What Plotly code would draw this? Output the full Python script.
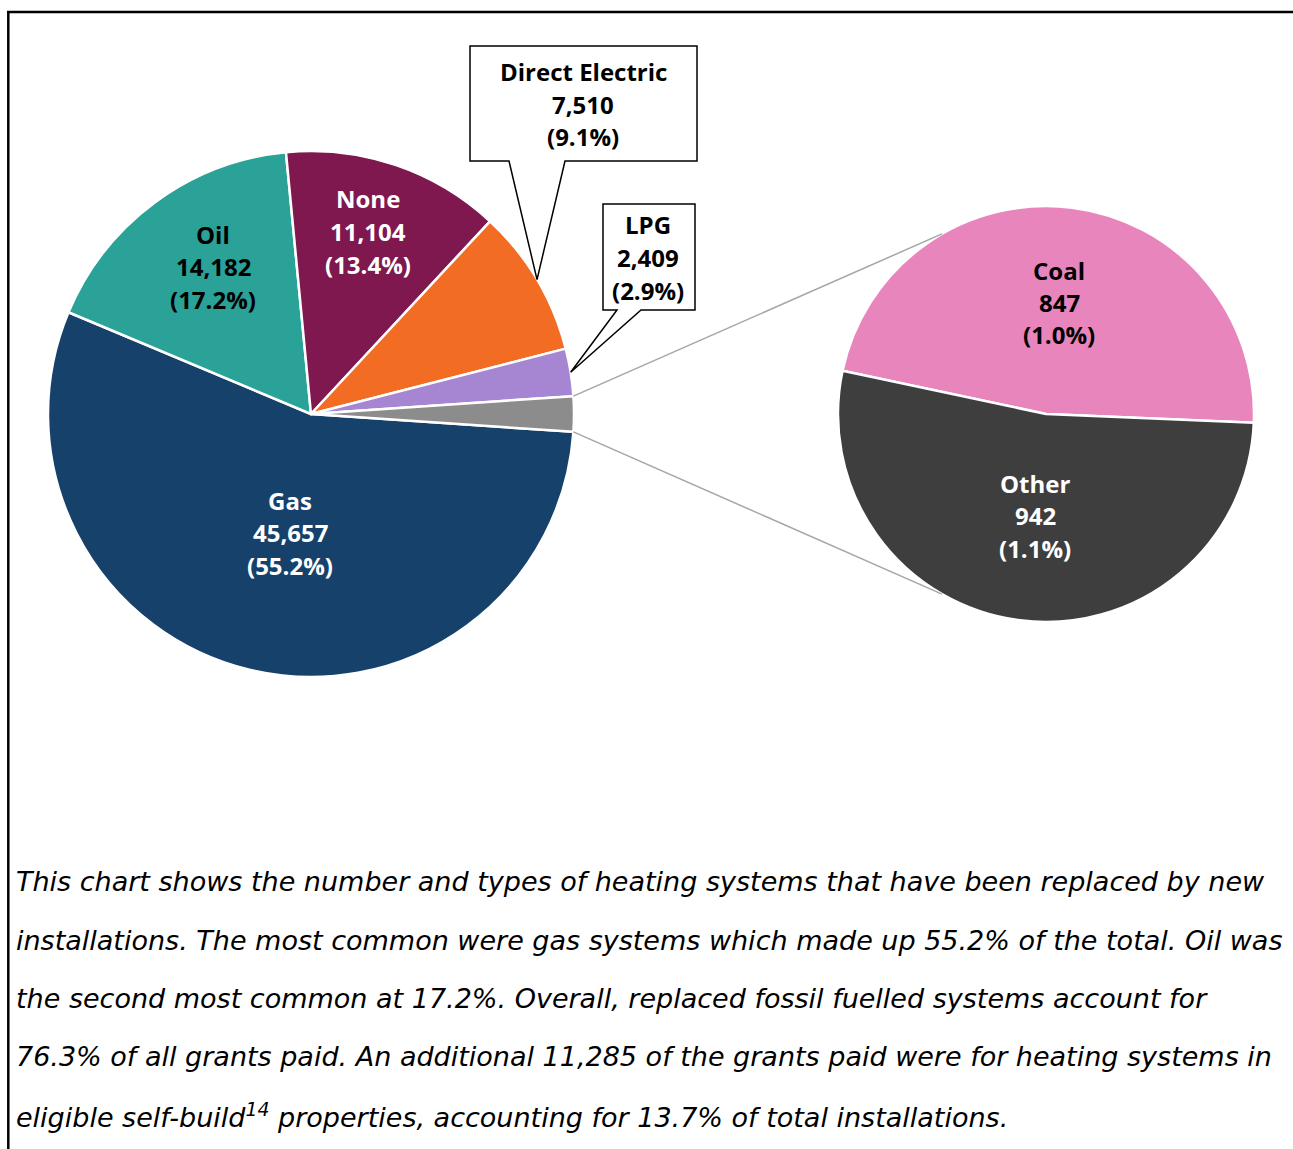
import math
import plotly.graph_objects as go

# ---------------- data ----------------
main_labels = ["Gas", "Oil", "None", "Direct Electric", "LPG"]
main_values = [45657, 14182, 11104, 7510, 2409]
sub_labels = ["Coal", "Other"]
sub_values = [847, 942]

caption_lines = [
    "This chart shows the number and types of heating systems that have been replaced by new",
    "installations. The most common were gas systems which made up 55.2% of the total. Oil was",
    "the second most common at 17.2%. Overall, replaced fossil fuelled systems account for",
    "76.3% of all grants paid. An additional 11,285 of the grants paid were for heating systems in",
    "eligible self-build<sup>14</sup> properties, accounting for 13.7% of total installations.",
]

# ---------------- styles / layout ----------------
W, H = 1293, 1149
main_colors = ["#15416B", "#2AA298", "#7E184E", "#F36C24", "#A686D3", "#8C8C8C"]
sub_colors = ["#E885BC", "#3E3E3E"]
main_text_colors = ["white", "black", "white", "black", "black"]
sub_text_colors = ["black", "white"]
FONT = "Open Sans"
CAP_FONT = "DejaVu Sans"

MC, MR = (311, 414), 263      # main pie centre / radius (px)
SC, SR = (1046, 414), 208     # secondary pie centre / radius (px)
SUB_ROT = 282

# first-line centre of each label (px)
main_label_pos = {"Gas": (290, 500), "Oil": (213, 234), "None": (368, 199),
                  "Direct Electric": (583, 72), "LPG": (648, 225)}
sub_label_pos = {"Coal": (1059, 270), "Other": (1035, 483)}
LINE_GAP = 32.5

def px(x):
    return x / W

def py(y):
    return 1 - y / H

def pie_point(c, r, ang):
    a = math.radians(ang)
    return c[0] + r * math.sin(a), c[1] - r * math.cos(a)

other_total = sum(sub_values)
all_main_labels = main_labels + ["Coal & Other"]
all_main_values = main_values + [other_total]
total = sum(all_main_values)
other_span = other_total / total * 360
rot_main = 90 + other_span / 2

fig = go.Figure()
fig.add_trace(go.Pie(
    labels=all_main_labels, values=all_main_values, sort=False,
    direction="clockwise", rotation=rot_main,
    marker=dict(colors=main_colors, line=dict(color="white", width=2.5)),
    textinfo="none", hoverinfo="label+value+percent", showlegend=False,
    domain=dict(x=[px(MC[0] - MR), px(MC[0] + MR)], y=[py(MC[1] + MR), py(MC[1] - MR)]),
))
fig.add_trace(go.Pie(
    labels=sub_labels, values=sub_values, sort=False,
    direction="clockwise", rotation=SUB_ROT - 360,
    marker=dict(colors=sub_colors, line=dict(color="white", width=2.5)),
    textinfo="none", hoverinfo="label+value", showlegend=False,
    domain=dict(x=[px(SC[0] - SR), px(SC[0] + SR)], y=[py(SC[1] + SR), py(SC[1] - SR)]),
))

# slice angles on main pie
angles = []
cur = rot_main
for v in all_main_values:
    span = v / total * 360
    angles.append((cur, cur + span))
    cur += span

shapes = []
# connector lines
p_top = pie_point(MC, MR, 90 - other_span / 2)
p_bot = pie_point(MC, MR, 90 + other_span / 2)
s_top = pie_point(SC, SR, 330)
s_bot = pie_point(SC, SR, 210)
for a, b in [(p_top, s_top), (p_bot, s_bot)]:
    shapes.append(dict(type="line", xref="paper", yref="paper",
                       x0=px(a[0]), y0=py(a[1]), x1=px(b[0]), y1=py(b[1]),
                       line=dict(color="#A6A6A6", width=1.5)))

# callout bubbles
def bubble(box, base, tip):
    x0, y0, x1, y1 = box
    pts = [(x0, y0), (x1, y0), (x1, y1), (base[1], y1), tip, (base[0], y1), (x0, y1)]
    d = "M " + " L ".join(f"{px(x):.5f},{py(y):.5f}" for x, y in pts) + " Z"
    return dict(type="path", xref="paper", yref="paper", path=d,
                fillcolor="white", line=dict(color="black", width=1.5))

i_de = main_labels.index("Direct Electric")
i_lpg = main_labels.index("LPG")
tip_de = pie_point(MC, MR, sum(angles[i_de]) / 2)
tip_lpg = pie_point(MC, MR, sum(angles[i_lpg]) / 2)
shapes.append(bubble((470, 46, 697, 161), (509, 565), tip_de))
shapes.append(bubble((603, 204, 695, 310), (617, 641), tip_lpg))

# frame lines
shapes.append(dict(type="line", xref="paper", yref="paper", x0=px(7), y0=py(12), x1=1, y1=py(12),
                   line=dict(color="black", width=2.5)))
shapes.append(dict(type="line", xref="paper", yref="paper", x0=px(8.3), y0=py(11), x1=px(8.3), y1=0,
                   line=dict(color="black", width=2.5)))

annotations = []

def add_label(name, value, color, pos):
    lines = [name, f"{value:,}", f"({value / total * 100:.1f}%)"]
    for k, t in enumerate(lines):
        annotations.append(dict(
            x=px(pos[0]), y=py(pos[1] + k * LINE_GAP), xref="paper", yref="paper",
            text=f"<b>{t}</b>", showarrow=False, xanchor="center", yanchor="middle",
            font=dict(family=FONT, size=24, color=color)))

for name, v, c in zip(main_labels, main_values, main_text_colors):
    add_label(name, v, c, main_label_pos[name])
for name, v, c in zip(sub_labels, sub_values, sub_text_colors):
    add_label(name, v, c, sub_label_pos[name])

for k, t in enumerate(caption_lines):
    annotations.append(dict(
        x=px(14), y=py(882 + k * 58.3), xref="paper", yref="paper",
        text=f"<i>{t}</i>", showarrow=False, xanchor="left", yanchor="middle",
        font=dict(family=CAP_FONT, size=27, color="black")))

fig.update_layout(
    width=W, height=H, margin=dict(l=0, r=0, t=0, b=0),
    paper_bgcolor="white", plot_bgcolor="white",
    shapes=shapes, annotations=annotations, showlegend=False,
)
fig.write_html("out.html", config={"displayModeBar": False},
               post_script="document.body.style.margin='0';document.body.style.overflow='hidden';")
